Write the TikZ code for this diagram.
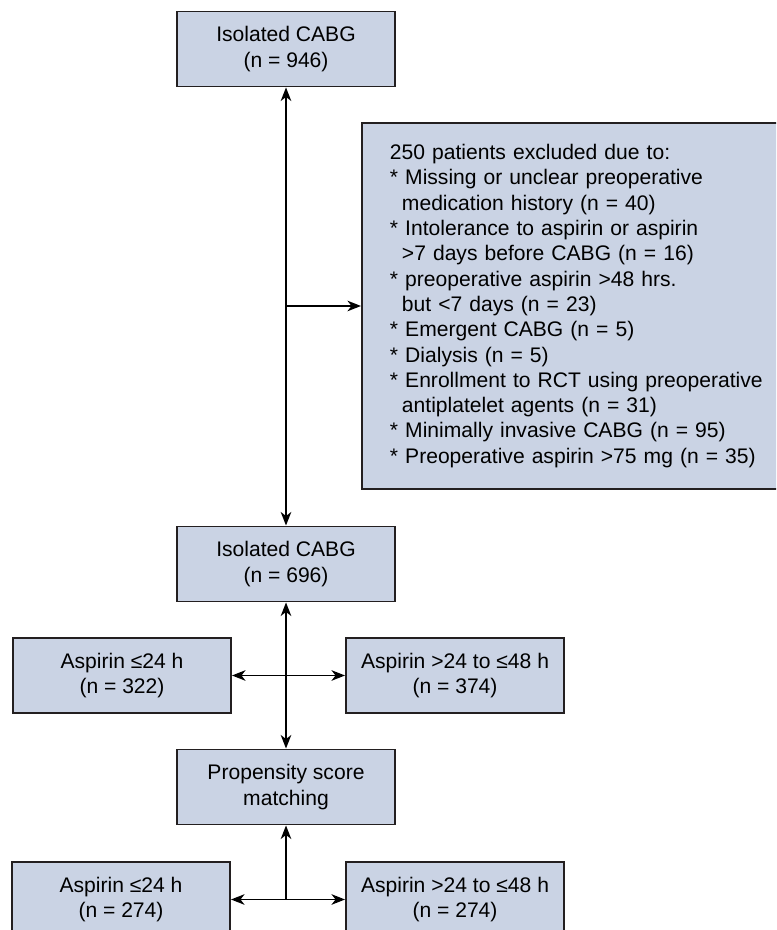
\documentclass[tikz,border=0pt]{standalone}
\usepackage{fontspec}
\setmainfont{Liberation Sans}
\usetikzlibrary{arrows.meta}

\definecolor{boxblue}{RGB}{202,211,228}
\definecolor{boxline}{RGB}{35,31,32}
\newcommand{\contline}{\hspace*{0.24cm}}

\begin{document}
\begin{tikzpicture}[line width=1.1pt,>={Stealth[length=2.7mm,width=2.1mm,inset=0.8mm]},
   box/.style={draw=boxline,fill=boxblue,align=center,font=\fontsize{12}{14.4}\selectfont,
     minimum width=4.36cm,minimum height=1.5cm,inner sep=2pt}]
  \useasboundingbox (0,0) rectangle (15.52,18.6);
  \clip (0,0) rectangle (15.52,18.6);
  \node[box] (all) at (5.72,17.62) {Isolated CABG\\(n = 946)};
  \node[box,anchor=west,align=left,text width=7.68cm,inner xsep=0.56cm,minimum height=7.32cm] (excl) at (7.22,12.48)
    {250 patients excluded due to:\\
     {*} Missing or unclear preoperative\\
     \contline medication history (n = 40)\\
     {*} Intolerance to aspirin or aspirin\\
     \contline >7 days before CABG (n = 16)\\
     {*} preoperative aspirin >48 hrs.\\
     \contline but <7 days (n = 23)\\
     {*} Emergent CABG (n = 5)\\
     {*} Dialysis (n = 5)\\
     {*} Enrollment to RCT using preoperative\\
     \contline antiplatelet agents (n = 31)\\
     {*} Minimally invasive CABG (n = 95)\\
     {*} Preoperative aspirin >75 mg (n = 35)};
  \node[box] (kept) at (5.72,7.32) {Isolated CABG\\(n = 696)};
  \node[box] (low1) at (2.44,5.09) {Aspirin ≤24 h\\(n = 322)};
  \node[box] (high1) at (9.10,5.09) {Aspirin >24 to ≤48 h\\(n = 374)};
  \node[box] (psm) at (5.72,2.86) {Propensity score\\matching};
  \node[box] (low2) at (2.42,0.61) {Aspirin ≤24 h\\(n = 274)};
  \node[box] (high2) at (9.10,0.61) {Aspirin >24 to ≤48 h\\(n = 274)};
  \coordinate (split) at (all.south |- excl.west);
  \coordinate (join) at (psm.south |- low2.east);
  \draw[<->] (all) -- (kept);
  \draw[->] (split) -- (excl.west);
  \draw[<->] (kept) -- (psm);
  \draw[<->] (low1) -- (high1);
  \draw[->] (join) -- (psm);
  \draw[<->] (low2) -- (high2);
\end{tikzpicture}
\end{document}
